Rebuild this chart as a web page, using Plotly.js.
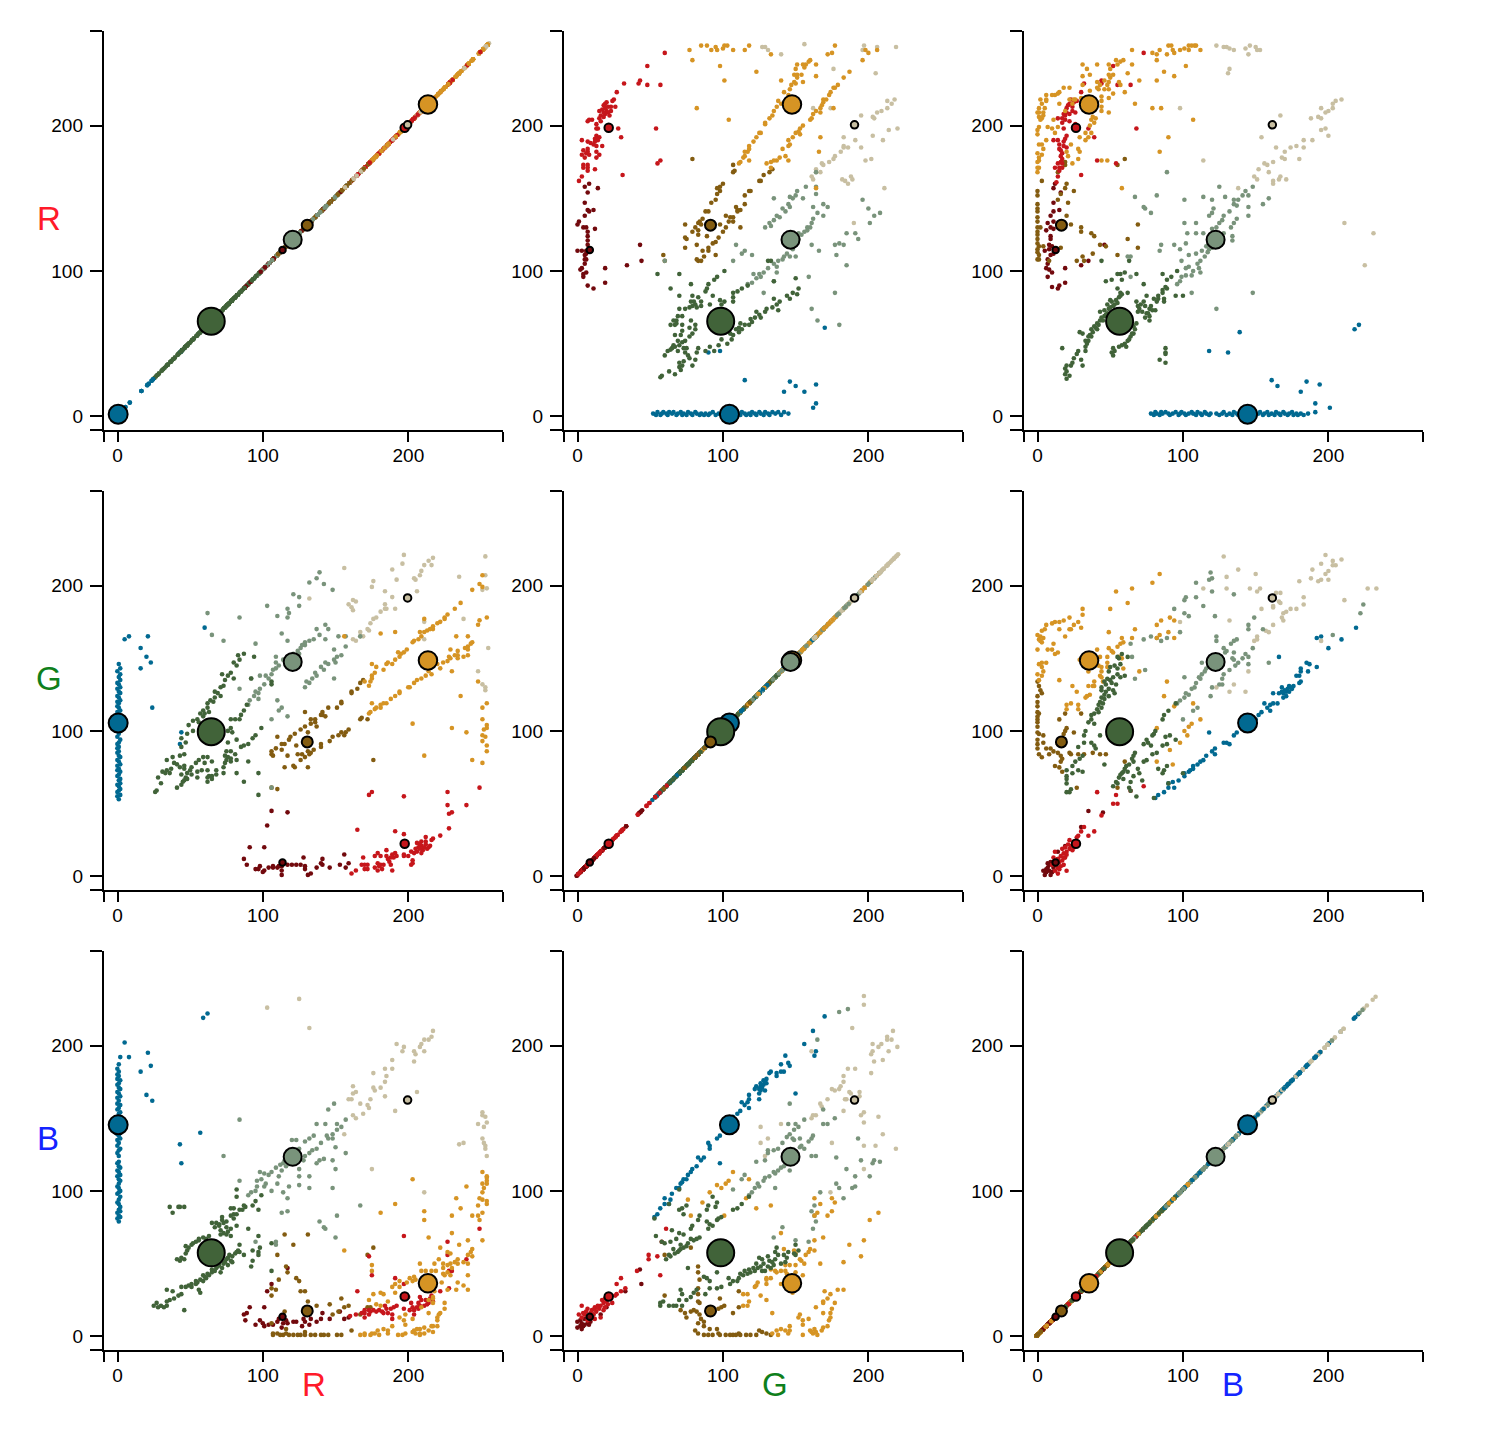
<!DOCTYPE html>
<html><head><meta charset="utf-8">
<script src="https://cdn.plot.ly/plotly-3.0.1.min.js"></script>
<style>html,body{margin:0;padding:0;background:#fff}</style></head>
<body><div id="chart" style="width:1502px;height:1440px"></div>
<script>
// cluster centres (R,G,B)
const clusterNames=['blue','darkred','brown','red','tan','sage','orange','green'];
const centreOrder=['orange','blue','sage','green','brown','red','tan','darkred'];
const centreR={blue:1,darkred:114,brown:131,red:198,tan:200,sage:121,orange:214,green:65};
const centreG={blue:105,darkred:9,brown:92,red:22,tan:191,sage:147,orange:148,green:99};
const centreB={blue:145,darkred:13,brown:17,red:27,tan:162,sage:123,orange:36,green:57};
const centreSize={blue:19,darkred:6.5,brown:11,red:8.5,tan:7.5,sage:18,orange:18.5,green:27};
const tickNumbers=[0,100,200];

// pixel samples: [G,R]
const GR_red=[[60,250],[48,241],[43,231],[42,229],[32,229],[48,228],[57,228],[27,223],[25,218],[24,217],[20,216],[19,215],[26,213],[15,210],[17,211],[20,210],[23,213],[23,210],[21,209],[19,208],[16,207],[18,206],[15,205],[19,212],[18,209],[10,204],[8,204],[7,203],[16,203],[13,201],[13,198],[14,198],[28,198],[54,198],[30,192],[3,190],[13,193],[15,192],[12,191],[14,190],[12,189],[7,189],[9,188],[11,187],[13,186],[17,186],[7,184],[4,183],[7,182],[3,180],[8,180],[13,182],[15,180],[13,178],[57,176],[55,174],[4,173],[7,173],[4,171],[7,171],[12,170],[7,169],[31,166],[3,165],[1,162],[21,213],[18,214],[22,207],[6,181],[5,178]];
const GR_darkred=[[5,158],[8,160],[14,157],[7,154],[5,147],[7,142],[11,142],[8,141],[5,138],[1,134],[0,132],[4,130],[6,130],[12,129],[7,124],[7,121],[7,118],[6,114],[0,114],[3,114],[6,112],[5,108],[6,108],[5,105],[3,102],[2,101],[6,99],[4,98],[4,96],[43,118],[34,104],[44,107],[19,102],[19,92],[7,90],[11,88],[5,111],[7,127]];
const GR_brown=[[128,166],[126,162],[132,168],[134,170],[79,177],[107,173],[107,168],[108,169],[125,162],[119,155],[118,155],[115,152],[115,146],[112,142],[110,142],[109,144],[110,141],[107,137],[105,137],[102,138],[107,134],[104,134],[98,132],[112,130],[102,130],[100,160],[98,158],[96,157],[98,155],[96,153],[95,149],[92,147],[90,141],[88,141],[86,136],[84,134],[83,133],[81,130],[74,132],[100,127],[97,123],[95,120],[93,119],[82,118],[74,116],[75,122],[74,123],[90,116],[86,114],[90,114],[95,111],[87,110],[83,107],[85,107],[82,108],[59,111],[60,107],[79,127],[89,124],[83,125],[85,132],[83,128]];
const GR_sage=[[109,118],[113,112],[115,114],[120,111],[107,107],[60,107],[156,127],[152,122],[148,115],[144,112],[141,108],[138,107],[135,105],[137,103],[137,99],[128,99],[125,98],[121,98],[123,95],[120,92],[117,91],[128,85],[135,93],[161,118],[166,114],[178,111],[185,104],[180,119],[177,118],[183,118],[185,126],[191,126],[193,122],[159,96],[177,85],[161,74],[165,66],[180,63],[146,110],[150,110],[164,168],[164,158],[157,158],[151,155],[135,150],[150,152],[148,150],[146,151],[164,153],[155,150],[145,146],[141,143],[146,144],[162,144],[169,146],[172,144],[165,140],[169,138],[162,136],[137,138],[135,135],[132,133],[129,130],[161,133],[158,130],[160,130],[196,149],[200,143],[204,138],[208,140],[201,133],[154,125],[150,118],[142,110],[131,102],[126,96],[148,118],[152,126],[143,141],[139,137],[133,131],[158,128]];
const GR_tan=[[127,254],[129,254],[131,252],[140,249],[197,255],[196,252],[206,254],[219,254],[176,239],[205,236],[162,212],[174,212],[213,217],[218,218],[216,215],[213,212],[209,210],[206,209],[195,207],[203,206],[204,205],[220,198],[214,197],[203,193],[210,190],[191,190],[183,192],[183,186],[183,185],[186,185],[195,185],[181,182],[177,179],[176,177],[173,175],[168,174],[169,173],[198,176],[202,177],[164,170],[167,168],[161,165],[162,163],[182,163],[184,162],[186,160],[188,165],[189,163],[211,157],[190,133],[164,168],[156,256]];
const GR_orange=[[77,252],[85,255],[89,255],[92,252],[95,254],[96,252],[100,253],[101,255],[103,255],[107,252],[115,252],[118,255],[79,245],[98,241],[123,237],[101,231],[82,212],[104,204],[125,195],[123,192],[121,189],[118,186],[118,184],[115,182],[117,182],[114,178],[115,179],[118,176],[112,175],[111,174],[177,255],[175,250],[172,249],[133,249],[160,245],[159,244],[157,242],[155,242],[151,242],[156,240],[150,239],[164,242],[149,235],[151,235],[154,235],[151,233],[140,231],[164,234],[155,230],[149,230],[147,228],[150,229],[146,225],[142,223],[145,221],[140,215],[137,213],[138,217],[135,210],[134,207],[132,205],[129,202],[129,201],[126,195],[187,237],[183,233],[179,228],[176,226],[177,226],[174,223],[173,221],[171,218],[169,218],[169,216],[168,214],[167,212],[176,212],[164,210],[167,209],[162,208],[161,205],[160,204],[155,200],[153,198],[152,196],[150,195],[153,194],[167,192],[148,192],[145,190],[146,187],[145,186],[141,184],[166,182],[143,179],[139,178],[137,176],[135,176],[133,175],[145,176],[130,174],[133,171],[196,245],[200,250],[206,252],[198,252],[164,157]];
const GR_green=[[101,100],[96,96],[94,94],[90,91],[89,88],[88,86],[78,91],[70,98],[55,98],[64,88],[70,83],[79,83],[83,82],[78,79],[85,79],[79,76],[77,75],[82,75],[70,74],[74,74],[93,83],[91,77],[98,80],[101,79],[99,77],[107,85],[110,86],[113,88],[107,82],[107,79],[117,90],[135,93],[131,107],[133,107],[150,95],[152,88],[151,84],[148,85],[144,83],[146,81],[135,81],[139,79],[137,77],[134,75],[130,74],[129,72],[138,73],[126,68],[123,72],[119,67],[120,65],[115,63],[118,63],[113,60],[111,61],[111,58],[107,56],[106,53],[99,53],[103,50],[97,49],[91,48],[94,45],[88,45],[82,44],[72,69],[69,69],[66,66],[68,66],[64,63],[67,63],[72,63],[78,66],[81,63],[77,61],[81,60],[72,59],[79,57],[67,56],[71,56],[77,55],[74,52],[72,51],[69,52],[70,49],[67,48],[65,47],[62,45],[69,45],[60,42],[75,47],[74,44],[77,40],[73,38],[70,37],[81,39],[79,35],[72,35],[70,34],[71,32],[67,29],[63,31],[58,28],[57,27],[80,79],[81,77],[68,64],[73,47],[76,42],[125,70],[122,68],[112,64],[109,60],[105,57],[66,49],[64,46],[83,47],[85,76]];
const GR_blue=[[52,2],[54,1],[55,3],[57,1],[58,2],[59,3],[61,2],[62,1],[63,3],[65,2],[66,3],[68,1],[69,2],[71,3],[72,1],[73,2],[75,1],[76,3],[78,2],[79,1],[81,3],[82,2],[84,1],[85,2],[87,1],[88,2],[90,1],[91,2],[93,3],[95,1],[97,2],[99,1],[101,2],[103,3],[109,3],[111,2],[112,1],[113,3],[115,2],[116,1],[118,2],[119,1],[120,3],[122,2],[123,1],[125,3],[126,2],[128,1],[129,3],[131,2],[132,1],[134,3],[136,2],[138,3],[140,1],[142,3],[145,2],[90,44],[98,45],[170,61],[115,25],[146,24],[150,21],[142,17],[156,17],[164,22],[164,9],[162,6]];

// pixel samples: [B,R]
const BR_red=[[73,250],[52,241],[44,231],[44,229],[32,229],[55,228],[64,228],[30,223],[23,218],[27,217],[25,216],[22,215],[20,212],[24,210],[26,209],[22,208],[19,207],[17,205],[17,202],[18,198],[14,205],[22,203],[26,201],[35,198],[68,198],[39,192],[20,193],[19,191],[18,189],[11,190],[14,190],[15,187],[18,186],[20,185],[16,183],[17,181],[16,179],[17,177],[14,174],[17,174],[12,171],[15,171],[17,171],[14,165],[13,161],[30,166],[41,176],[54,174],[21,214],[24,213],[18,208],[19,204],[20,209],[15,184],[16,175],[15,169]];
const BR_darkred=[[11,157],[16,154],[11,147],[15,142],[11,141],[9,138],[11,134],[7,133],[9,130],[11,129],[9,124],[9,122],[10,117],[8,115],[5,114],[11,112],[7,108],[7,105],[6,102],[8,101],[10,99],[7,96],[19,102],[19,92],[10,89],[15,90],[14,88],[46,118],[30,104],[35,107],[8,118],[9,111],[6,128],[12,160]];
const BR_brown=[[60,177],[55,173],[19,175],[19,173],[14,168],[3,162],[20,160],[19,157],[25,155],[0,155],[0,152],[16,153],[14,149],[21,147],[0,146],[0,143],[0,141],[20,138],[0,137],[0,134],[23,132],[30,130],[69,132],[2,130],[0,130],[0,127],[0,122],[0,119],[4,117],[0,115],[0,113],[1,111],[0,108],[1,108],[16,116],[30,127],[37,126],[39,124],[62,122],[43,118],[47,117],[69,116],[55,111],[38,112],[31,110],[27,107],[32,107],[8,107],[0,125],[1,117]];
const BR_sage=[[67,151],[82,152],[73,144],[74,143],[78,140],[89,168],[101,149],[114,151],[120,149],[125,158],[121,143],[120,140],[118,138],[101,133],[109,133],[120,129],[123,130],[125,133],[148,158],[143,155],[145,152],[141,152],[138,149],[135,149],[129,151],[159,150],[155,146],[135,146],[137,145],[145,144],[132,141],[145,138],[128,138],[137,136],[127,135],[135,133],[133,130],[103,126],[109,126],[114,126],[134,124],[134,121],[128,126],[85,118],[84,114],[94,118],[102,119],[98,115],[109,112],[104,111],[99,107],[113,114],[117,113],[120,116],[123,118],[110,105],[112,107],[115,110],[104,103],[107,100],[112,99],[102,102],[102,97],[99,96],[98,93],[96,91],[106,85],[148,85],[123,74],[62,110],[64,110],[64,96],[118,115],[116,117],[111,102],[106,97]];
const BR_tan=[[128,254],[130,254],[132,253],[135,252],[143,253],[146,255],[150,254],[151,252],[153,252],[145,249],[132,239],[131,236],[167,207],[154,192],[209,218],[205,217],[203,215],[203,212],[200,210],[198,209],[195,212],[193,206],[195,205],[188,205],[198,198],[195,197],[200,193],[189,190],[183,190],[183,185],[178,186],[174,185],[164,185],[170,182],[180,177],[168,178],[170,177],[162,175],[156,174],[158,173],[152,170],[159,168],[149,165],[151,163],[167,165],[166,163],[171,163],[162,162],[162,160],[138,157],[211,133],[123,255],[98,212],[114,176],[231,126],[225,104]];
const BR_orange=[[65,252],[84,252],[79,250],[82,249],[82,245],[89,249],[90,255],[92,255],[93,252],[94,250],[98,252],[101,253],[104,255],[106,255],[108,255],[109,255],[112,252],[104,252],[102,241],[87,237],[82,231],[94,234],[70,231],[62,236],[65,242],[59,245],[57,244],[54,245],[55,242],[49,242],[50,239],[41,242],[31,242],[34,239],[36,235],[31,234],[31,228],[18,226],[22,226],[49,235],[52,235],[50,233],[46,231],[49,230],[41,230],[43,228],[48,228],[41,226],[42,225],[46,225],[49,225],[56,230],[57,228],[52,222],[60,223],[49,219],[44,220],[44,217],[44,213],[44,210],[49,209],[67,215],[79,212],[85,212],[107,204],[90,192],[84,182],[15,223],[14,222],[12,221],[10,221],[6,221],[6,218],[3,215],[6,217],[5,212],[0,209],[1,209],[4,209],[1,206],[4,207],[3,205],[2,204],[15,215],[22,218],[25,218],[19,210],[11,204],[14,199],[7,199],[10,198],[1,199],[0,197],[0,194],[12,195],[6,190],[3,187],[1,187],[4,184],[3,180],[1,176],[0,175],[0,171],[1,171],[0,168],[29,192],[33,190],[35,192],[33,195],[37,195],[23,187],[28,184],[29,182],[28,177],[24,174],[21,179],[20,182],[44,176],[48,176],[58,157],[38,206],[40,205],[37,204],[39,202],[36,200],[24,215],[26,218],[36,224],[30,219],[1,212],[2,218],[0,181],[1,178]];
const BR_green=[[96,100],[92,96],[86,98],[89,94],[88,89],[86,87],[89,88],[73,91],[68,98],[60,99],[57,98],[55,98],[51,94],[47,93],[58,94],[55,88],[57,85],[62,85],[58,84],[56,82],[54,80],[50,80],[48,77],[50,75],[46,73],[43,72],[46,69],[43,66],[42,63],[40,61],[38,58],[36,56],[33,52],[35,52],[29,58],[31,57],[33,48],[33,45],[28,45],[27,43],[17,47],[25,40],[24,37],[23,35],[20,35],[19,33],[20,31],[19,29],[22,28],[20,26],[30,39],[31,35],[68,79],[69,76],[73,79],[74,76],[77,74],[79,73],[81,73],[77,69],[74,68],[77,66],[67,60],[66,57],[64,55],[58,49],[56,48],[52,47],[51,44],[52,42],[88,47],[88,44],[88,43],[84,39],[88,37],[75,83],[80,81],[83,81],[82,79],[87,81],[87,79],[95,83],[100,83],[86,85],[44,107],[63,107],[52,76],[55,78],[48,71],[45,66],[41,60],[37,55],[62,52],[60,50],[65,57],[65,62],[70,74],[72,72],[75,71],[78,76],[83,83],[49,74],[47,70],[44,68],[41,64],[39,62],[37,60],[35,55],[34,50],[53,77],[51,79],[57,83],[69,72],[71,77],[76,71],[63,53],[61,48],[53,45],[66,62],[68,64]];
const BR_blue=[[78,2],[80,1],[81,3],[82,2],[84,1],[85,3],[86,2],[88,3],[90,2],[91,1],[93,2],[95,3],[97,1],[98,2],[99,3],[101,2],[102,1],[104,2],[106,3],[107,2],[109,1],[110,3],[112,2],[113,1],[115,3],[116,2],[118,1],[119,2],[123,2],[125,1],[127,2],[128,3],[130,1],[132,2],[134,1],[135,3],[137,2],[138,1],[139,2],[150,1],[152,2],[153,3],[155,1],[156,2],[158,3],[159,1],[161,2],[163,1],[164,3],[166,2],[167,1],[169,3],[170,2],[172,1],[173,2],[175,3],[176,1],[178,2],[179,1],[181,2],[183,1],[186,2],[191,3],[118,45],[131,44],[139,58],[161,25],[165,21],[181,17],[185,24],[191,9],[194,22],[201,6],[218,60],[221,63]];

// pixel samples: [B,G]
const BG_red=[[41,58],[73,62],[64,59],[54,56],[52,50],[55,50],[44,42],[32,34],[39,31],[35,28],[30,31],[28,28],[27,27],[25,24],[23,21],[19,20],[22,19],[24,18],[20,17],[18,16],[16,14],[19,13],[11,13],[17,11],[15,10],[18,8],[14,6],[20,4],[14,2],[12,17],[15,5],[10,8],[17,19],[21,22],[25,20],[13,9],[16,7],[12,4],[18,13],[14,12],[22,25],[20,15]];
const BG_darkred=[[35,45],[45,44],[30,34],[19,21],[14,17],[11,10],[9,10],[7,6],[8,4],[6,5],[9,1],[5,1],[11,6],[8,8],[14,12],[6,3],[10,3],[7,9],[4,4],[12,8]];
const BG_brown=[[0,134],[2,128],[3,126],[0,120],[0,117],[0,113],[1,112],[0,108],[19,112],[30,112],[15,108],[0,106],[0,103],[0,99],[0,94],[0,91],[4,92],[0,88],[1,84],[3,82],[6,88],[9,88],[8,84],[14,85],[16,83],[16,79],[12,76],[15,75],[17,72],[1,98],[4,97],[20,102],[19,100],[18,98],[22,85],[23,84],[28,84],[32,84],[38,85],[43,84],[47,84],[25,99],[27,61],[55,61],[60,79],[1,131],[0,124],[0,110],[17,81],[14,91],[11,86]];
const BG_sage=[[119,209],[118,204],[120,205],[120,196],[109,202],[109,192],[102,192],[101,190],[114,186],[94,184],[101,181],[104,179],[122,179],[98,168],[78,165],[73,163],[82,164],[85,162],[89,164],[64,160],[123,165],[123,162],[65,151],[74,142],[67,136],[113,147],[115,141],[113,139],[111,137],[109,133],[106,129],[102,126],[101,123],[98,121],[96,119],[101,137],[119,124],[120,130],[125,132],[110,116],[107,114],[100,108],[135,194],[149,178],[145,173],[145,170],[155,170],[137,163],[135,162],[133,160],[148,157],[128,157],[129,154],[135,154],[143,153],[141,150],[145,151],[135,149],[138,147],[159,147],[145,146],[136,145],[132,142],[128,139],[127,136],[127,132],[224,187],[222,181],[203,166],[104,125],[108,130],[112,136],[116,143],[134,150],[130,155]];
const BG_tan=[[128,220],[138,211],[130,206],[150,208],[130,198],[146,198],[151,196],[153,198],[164,195],[167,195],[166,189],[167,188],[162,186],[162,185],[154,184],[132,176],[162,173],[169,181],[171,182],[174,184],[178,184],[183,192],[183,187],[180,203],[188,205],[189,211],[193,203],[195,204],[200,204],[198,208],[200,210],[203,214],[205,214],[203,217],[209,218],[195,215],[198,221],[211,190],[227,198],[233,198],[168,178],[169,176],[159,168],[157,169],[151,165],[151,163],[149,162],[195,162],[145,141],[135,132],[132,127],[143,127],[114,198],[98,175],[123,130]];
const BG_orange=[[84,208],[79,202],[65,198],[54,196],[62,188],[50,184],[31,184],[31,180],[22,178],[18,176],[15,175],[12,175],[10,174],[6,173],[5,170],[3,169],[28,175],[25,173],[30,171],[23,170],[22,170],[15,170],[19,165],[0,166],[2,165],[4,164],[1,163],[3,161],[2,162],[11,160],[0,156],[7,156],[10,156],[14,154],[12,153],[3,147],[6,147],[1,146],[3,144],[4,141],[0,139],[3,138],[15,135],[1,135],[24,131],[27,127],[67,170],[49,168],[58,164],[65,164],[85,176],[82,173],[91,178],[94,176],[84,166],[90,168],[82,164],[94,164],[59,161],[57,160],[55,158],[49,157],[51,155],[52,154],[41,156],[56,151],[58,150],[48,151],[48,147],[43,151],[44,144],[44,141],[48,144],[29,149],[35,141],[59,143],[70,141],[43,138],[44,137],[39,134],[38,131],[35,131],[39,131],[36,125],[34,124],[33,123],[89,134],[87,124],[107,119],[112,108],[23,119],[20,118],[20,115],[28,118],[28,115],[94,117],[106,105],[104,103],[101,100],[103,97],[82,102],[98,92],[91,87],[82,79],[93,77],[42,145],[45,134]];
const BG_green=[[58,153],[56,150],[62,151],[55,151],[57,146],[55,143],[50,144],[49,141],[60,138],[57,137],[52,137],[48,136],[46,134],[51,133],[54,132],[44,130],[49,129],[44,128],[47,127],[44,123],[49,124],[43,120],[45,119],[41,115],[42,113],[39,112],[37,111],[37,108],[90,114],[87,111],[86,108],[95,119],[35,106],[33,100],[32,97],[28,89],[32,92],[37,92],[39,90],[40,88],[31,83],[29,81],[26,79],[24,76],[20,73],[24,71],[28,73],[31,72],[20,69],[20,67],[20,64],[23,60],[20,58],[22,58],[43,97],[46,77],[67,85],[65,81],[63,77],[60,74],[58,71],[56,68],[54,65],[52,62],[81,100],[79,97],[75,94],[73,91],[95,94],[91,97],[88,96],[86,90],[89,91],[82,85],[79,84],[75,80],[73,79],[69,74],[66,69],[64,65],[63,61],[64,59],[68,55],[89,76],[87,73],[86,71],[83,74],[90,64],[100,71],[80,54],[50,135],[52,128],[46,122],[44,116],[39,105],[66,83],[62,72],[59,67],[72,66],[70,71],[55,64],[53,145],[55,139],[47,132],[53,126],[46,125],[42,118],[76,92],[78,90],[80,98],[61,76],[59,72],[57,70],[66,79]];
const BG_blue=[[219,171],[209,163],[195,165],[192,164],[200,157],[166,151],[185,147],[187,146],[192,144],[181,143],[181,141],[186,141],[180,138],[178,138],[181,134],[180,133],[176,131],[173,131],[168,130],[175,129],[172,129],[171,127],[173,127],[169,126],[171,124],[169,123],[162,126],[166,126],[165,119],[156,119],[162,119],[160,118],[158,116],[160,114],[154,113],[152,111],[150,108],[137,99],[135,97],[130,92],[128,92],[132,91],[118,99],[122,88],[120,86],[122,84],[116,83],[114,80],[112,79],[110,77],[107,76],[105,73],[104,72],[101,69],[97,66],[93,65],[90,64],[94,61],[90,61],[87,58],[83,56],[81,54],[107,74],[101,71],[168,127],[170,128],[174,130]];

const pairs={
  GR:{blue:GR_blue,darkred:GR_darkred,brown:GR_brown,red:GR_red,tan:GR_tan,sage:GR_sage,orange:GR_orange,green:GR_green},
  BR:{blue:BR_blue,darkred:BR_darkred,brown:BR_brown,red:BR_red,tan:BR_tan,sage:BR_sage,orange:BR_orange,green:BR_green},
  BG:{blue:BG_blue,darkred:BG_darkred,brown:BG_brown,red:BG_red,tan:BG_tan,sage:BG_sage,orange:BG_orange,green:BG_green}
};
const col=n=>`rgb(${centreR[n]},${centreG[n]},${centreB[n]})`;
const centres={R:centreR,G:centreG,B:centreB};
// samples were read against the tick marks, which sit a fraction of a pixel off the marks' own scale
const tickBias=0.55;
const dotSize=4.6;
const channels=['R','G','B'];
const colLeft=[103,563,1023], rowTop=[31,491,951], side=400, W=1502, H=1440;
const xRange=[-8.87,265.59], yRange=[-9.63,264.5];
const traces=[], layout={width:W,height:H,margin:{l:0,r:0,t:0,b:0},showlegend:false,paper_bgcolor:'#fff',plot_bgcolor:'#fff',annotations:[],
  font:{family:'"Liberation Sans",Helvetica,Arial,sans-serif',size:19,color:'#000'}};
function sample(xc,yc,n){
  const key=[xc+yc,yc+xc].find(k=>pairs[k]);
  const arr=pairs[key][n];
  const a=arr.map(p=>p[0]+tickBias), b=arr.map(p=>p[1]-tickBias);
  return key===xc+yc?{x:a,y:b}:{x:b,y:a};
}
function diag(c){
  const v=[],cols=[];
  clusterNames.forEach(n=>{
    for(const k of Object.keys(pairs)){
      const i=k.indexOf(c);
      if(i>=0) pairs[k][n].forEach(p=>{v.push(p[i]);cols.push(col(n));});
    }
  });
  // the points are not drawn cluster by cluster on the diagonal: step through them so the colours mix
  const N=v.length, step=Math.floor(N*0.382)|1, ox=[],oc=[];
  let i=0;const seen=new Set();
  for(let k=0;k<N;k++){ while(seen.has(i)) i=(i+1)%N; seen.add(i); ox.push(v[i]); oc.push(cols[i]); i=(i+step)%N; }
  return {x:ox,y:ox,c:oc};
}
channels.forEach((yc,r)=>channels.forEach((xc,c)=>{
  const idx=r*3+c+1, sfx=idx===1?'':idx;
  const axCommon={tickmode:'array',ticks:'outside',tickwidth:2,tickcolor:'#000',
    showline:true,linecolor:'#000',linewidth:2,showgrid:false,zeroline:false,tickfont:{size:19,color:'#000'}};
  const txt=[''].concat(tickNumbers.map(String),['']);
  layout['xaxis'+sfx]=Object.assign({},axCommon,{range:xRange,ticklen:10,ticklabelstandoff:-3,
    tickvals:[xRange[0]].concat(tickNumbers.map(v=>v+tickBias),[xRange[1]]),ticktext:txt,
    domain:[(colLeft[c]+0.8)/W,(colLeft[c]+side)/W],anchor:'y'+sfx});
  layout['yaxis'+sfx]=Object.assign({},axCommon,{range:yRange,ticklen:12,ticklabelstandoff:3,
    tickvals:[yRange[0]].concat(tickNumbers.map(v=>v-tickBias),[yRange[1]]),ticktext:txt,
    domain:[1-(rowTop[r]+398.7)/H,1-rowTop[r]/H],anchor:'x'+sfx});
  if(xc===yc){
    const d=diag(xc);
    traces.push({type:'scatter',mode:'markers',x:d.x,y:d.y,xaxis:'x'+sfx,yaxis:'y'+sfx,hoverinfo:'skip',
      marker:{size:dotSize,color:d.c,line:{width:0}}});
  } else clusterNames.forEach(n=>{
    const d=sample(xc,yc,n);
    traces.push({type:'scatter',mode:'markers',x:d.x,y:d.y,xaxis:'x'+sfx,yaxis:'y'+sfx,hoverinfo:'skip',
      marker:{size:dotSize,color:col(n),line:{width:0}}});
  });
  traces.push({type:'scatter',mode:'markers',xaxis:'x'+sfx,yaxis:'y'+sfx,hoverinfo:'skip',
    x:centreOrder.map(n=>centres[xc][n]),y:centreOrder.map(n=>centres[yc][n]),
    marker:{size:centreOrder.map(n=>centreSize[n]),color:centreOrder.map(col),line:{width:2,color:'#000'},opacity:1}});
}));
const labelColors={R:'#ff1a2a',G:'#0f7f1c',B:'#1424ff'};
const rowLabels=[['R',49,218],['G',49,678],['B',48,1138]];
const colLabels=[['R',314,1384],['G',775,1384],['B',1233,1384]];
rowLabels.concat(colLabels).forEach(l=>layout.annotations.push({text:l[0],xref:'paper',yref:'paper',x:l[1]/W,y:1-l[2]/H,xanchor:'center',yanchor:'middle',showarrow:false,
  font:{size:33,color:labelColors[l[0]],family:'"Liberation Sans",Helvetica,Arial,sans-serif'}}));
Plotly.newPlot('chart',traces,layout,{staticPlot:true,displayModeBar:false});
</script></body></html>
